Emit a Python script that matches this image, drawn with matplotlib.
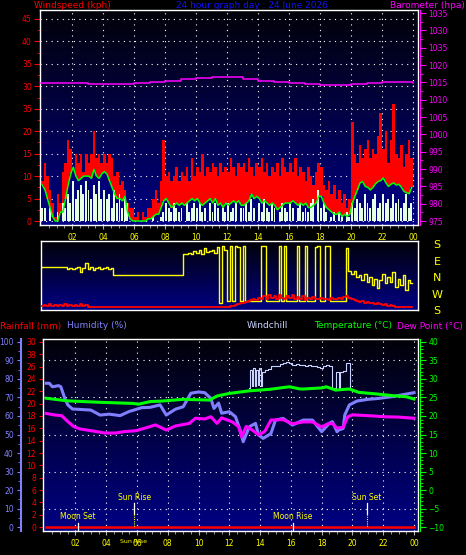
import numpy as np
import matplotlib
matplotlib.use("Agg")
import matplotlib.pyplot as plt
from matplotlib.colors import LinearSegmentedColormap

# top panel, 10 minute samples (kph)
gust = [9, 13, 10, 7, 4, 1, 6, 4, 11, 13, 18, 16, 12, 15, 13, 15, 11, 15,
        13, 15, 20, 14, 15, 13, 15, 13, 15, 14, 10, 11, 8, 9, 7, 4, 3, 3,
        1, 2, 0, 2, 1, 3, 3, 5, 7, 4, 9, 18, 10, 11, 9, 10, 12, 9,
        11, 10, 12, 9, 14, 10, 12, 11, 15, 10, 12, 11, 13, 12, 10, 13, 11, 12,
        11, 14, 12, 10, 13, 12, 13, 11, 14, 12, 10, 13, 12, 14, 11, 13, 10, 12,
        11, 13, 10, 14, 12, 11, 13, 11, 14, 10, 12, 11, 9, 12, 10, 8, 11, 13,
        12, 8, 7, 9, 6, 8, 5, 7, 4, 6, 3, 5, 22, 15, 13, 17, 14, 16,
        18, 14, 16, 15, 19, 24, 16, 20, 13, 18, 26, 15, 14, 17, 12, 15, 18, 14]
wind = [3, 3, 0, 3, 0, 0, 2, 0, 4, 3, 6, 4, 9, 5, 7, 8, 6, 9,
        7, 5, 8, 6, 9, 5, 7, 5, 6, 3, 7, 4, 6, 3, 5, 4, 0, 0,
        0, 0, 0, 0, 0, 0, 0, 1, 0, 0, 1, 2, 4, 3, 2, 4, 3, 2,
        3, 0, 4, 2, 3, 4, 3, 4, 2, 3, 0, 4, 2, 4, 3, 0, 3, 2,
        4, 2, 3, 4, 0, 3, 3, 4, 2, 5, 3, 0, 4, 2, 5, 3, 2, 4,
        3, 0, 2, 4, 3, 2, 4, 3, 0, 3, 4, 2, 3, 2, 4, 5, 0, 7,
        3, 4, 2, 0, 1, 2, 0, 2, 1, 0, 2, 1, 4, 3, 5, 4, 3, 6,
        4, 3, 5, 6, 3, 4, 6, 4, 5, 3, 6, 4, 5, 3, 4, 6, 3, 4]
avg = [8, 7, 5, 3, 1, 0, 0, 2, 2, 5, 8, 10.5, 12, 10, 9, 9.5, 10, 10,
       10, 9.5, 11.5, 10, 9.5, 10.5, 11, 10.5, 9, 7.5, 6, 5, 5, 4.5, 5.5, 2, 0.5, 0,
       0, 0, 0, 0, 0, 0.5, 0.5, 1, 1.5, 1.5, 3, 4.5, 5, 4, 3, 3.5, 4, 3.5,
       4, 3.5, 4, 4.5, 5, 4.5, 5, 4, 3.5, 4, 4.5, 5, 4, 5, 3.5, 4, 3, 4,
       3.5, 4, 4.5, 4, 4.5, 3.5, 3.5, 4, 4.5, 6, 5, 5.5, 5, 4, 4.5, 4, 3.5, 4,
       3.5, 2.5, 3, 3.5, 4, 4, 4, 4.5, 4, 3.5, 4, 3.5, 4, 3, 3, 3.5, 4, 5.5,
       5.5, 4, 3, 2.5, 2, 1.5, 1.5, 2, 1, 1.5, 1, 1.5, 4, 5.5, 7, 8.5, 8.8, 7.7,
       7.5, 6.9, 7.5, 8.3, 8.8, 9, 9.6, 8.5, 7.7, 8.2, 8.5, 8, 8.2, 7.5, 6.6, 6.3, 6.1, 7.5]
baro_hours = list(range(25))
baro = [1014.7, 1014.7, 1014.7, 1014.4, 1014.4, 1014.4, 1014.7, 1015.1, 1015.5,
        1016.0, 1016.3, 1016.5, 1016.4, 1016.0, 1015.4, 1015.1, 1014.7, 1014.4,
        1014.2, 1014.3, 1014.6, 1014.7, 1015.1, 1015.1, 1014.9]

# direction panel (S=4, E=3, N=2, W=1, S=0), 10 minute samples
direction = [2.6, 2.65, 2.65, 2.65, 2.65, 2.65, 2.65, 2.65, 2.65, 2.6, 2.5, 2.55,
             2.5, 2.55, 2.6, 2.3, 2.55, 2.85, 2.5, 2.6, 2.45, 2.55, 2.6, 2.5,
             2.55, 2.6, 2.5, 2.55, 2.15, 2.15] + [2.15] * 25 + \
            [3.45, 3.45, 3.5, 3.45, 3.6, 3.5, 3.7, 3.4, 3.8, 3.55, 3.6,
             3.65, 3.5, 3.85, 0.4, 3.9, 3.7, 0.5, 3.9, 0.5, 3.9, 3.85, 0.5,
             3.9, 0.5, 0.5, 0.5, 0.5, 0.5, 0.5, 3.95, 3.9, 0.5, 0.5, 0.5,
             0.5, 0.5, 3.9, 0.5, 3.9, 0.5, 0.5, 0.5, 0.5, 3.95, 0.5, 0.5,
             3.9, 0.5, 0.5, 0.5, 3.85, 3.9, 0.5, 0.5, 3.9, 3.9, 0.5, 0.5,
             0.5, 0.5, 0.5, 0.5, 3.8, 2.4, 2.2, 2.4, 2.0, 2.1, 1.8, 2.2,
             1.7, 2.0, 1.5, 1.9, 1.3, 1.8, 2.2, 1.6, 2.0, 1.7, 2.3, 1.4,
             1.9, 1.5, 2.1, 1.2, 1.8, 1.6]
dir_speed = [0.2, 0.25, 0.2, 0.3, 0.2, 0.25] * 3 + [0.15] * 54 + \
            [0.15, 0.2, 0.2, 0.25, 0.3, 0.35, 0.4, 0.45, 0.5, 0.55, 0.6, 0.55,
             0.7, 0.6, 0.8, 0.65, 0.9, 0.7, 0.8, 0.65, 0.85, 0.7, 0.6, 0.8,
             0.7, 0.9, 0.65, 0.75, 0.6, 0.8, 0.55, 0.7, 0.6, 0.75, 0.65, 0.6,
             0.7, 0.6, 0.65, 0.55, 0.7, 0.6, 0.65, 0.7, 0.6, 0.75, 0.8, 0.7,
             0.6, 0.55, 0.5, 0.45, 0.5, 0.4, 0.45, 0.35, 0.4, 0.3, 0.35, 0.3,
             0.25, 0.3, 0.2, 0.25, 0.2, 0.15] + [0.15] * 6

# bottom panel
hum_t = [0.1, 0.3, 0.5, 0.9, 1.05, 1.3, 1.5, 1.8, 2.4, 3.0, 3.6, 4.2, 4.9, 5.5, 5.8,
         6.3, 6.86, 7.5, 7.9, 8.5, 9.0, 9.5, 10.0, 10.4, 10.8, 11.0, 11.3, 11.5, 12.0,
         12.4, 12.7, 12.9, 13.3, 13.7, 13.9, 14.2, 14.7, 15.0, 15.5, 16.1, 16.8, 17.4,
         18.0, 18.5, 18.7, 19.0, 19.1, 19.4, 19.5, 19.8, 20.3, 21.0, 21.7, 22.6, 23.2, 24.0]
hum_v = [77.7, 77.7, 75.8, 76.4, 75.8, 69.7, 66, 63.8, 63.5, 63.2, 60.5, 61, 60.2, 62.5,
         63.2, 64.5, 64.7, 66, 60.5, 63.7, 65, 72.3, 73, 72.6, 69.5, 64.1, 67, 61.5, 62.3,
         59.6, 52.4, 46.1, 54.2, 56, 49.7, 47.9, 50.5, 57.8, 58.7, 55.1, 57.8, 57.8, 51.5,
         56.1, 56.9, 51.5, 52.4, 53.3, 60.5, 66, 68.1, 69, 69.5, 70.5, 71.4, 72.6]
temp_t = [0.1, 1.45, 3.6, 5.75, 6.1, 6.86, 7.5, 9.0, 10.7, 11.2, 12.0, 13.3, 14.6, 15.9,
          16.6, 16.8, 18.05, 18.3, 18.9, 19.8, 20.4, 21.7, 22.6, 23.5, 24.0]
temp_v = [24.8, 24.1, 23.7, 23.4, 23.2, 23.9, 24.0, 24.5, 24.3, 25.4, 26.1, 26.8, 27.2,
          27.9, 27.3, 27.3, 27.6, 27.9, 27.0, 27.3, 26.4, 25.9, 25.5, 25.2, 24.6]
dew_t = [0.1, 0.6, 1.1, 1.5, 1.9, 2.3, 3.2, 3.9, 4.6, 5.2, 5.9, 6.5, 7.2, 7.9, 8.5, 9.4,
         9.8, 10.4, 10.8, 11.2, 11.5, 12.2, 12.6, 12.8, 13.1, 13.5, 13.9, 14.3, 14.7, 15.5,
         16.1, 16.8, 17.4, 18.0, 18.4, 18.7, 19.0, 19.4, 19.7, 20.0, 21.0, 22.1, 23.0, 24.0]
dew_v = [20.7, 20.3, 20.1, 18.5, 17.1, 16.5, 15.9, 15.4, 15.4, 15.8, 16.0, 16.7, 17.6,
         16.2, 17.3, 18.0, 19.4, 19.2, 19.8, 18.0, 19.5, 18.4, 17.1, 14.4, 17.2, 16.2,
         14.9, 15.8, 18.9, 19.0, 17.9, 18.4, 18.4, 17.0, 17.9, 18.0, 16.7, 17.0, 19.8,
         20.3, 20.1, 19.8, 19.7, 19.4]
chill_t = [13.3, 13.35, 13.45, 13.55, 13.65, 13.75, 13.85, 13.95, 14.05, 14.15, 14.3,
           14.5, 14.7, 14.9, 15.1, 15.3, 15.5, 15.7, 15.9, 16.1, 16.3, 16.5, 16.7, 16.9,
           17.1, 17.3, 17.5, 17.7, 17.9, 18.1, 18.3, 18.5, 18.65, 18.7, 18.8, 18.9, 19.0,
           19.1, 19.2, 19.4, 19.5, 19.6, 19.8, 19.85]
chill_v = [27.6, 32.5, 28, 33, 28, 32.5, 28.5, 33, 28, 32, 32.3, 32.6, 33.5, 33.6, 33.5,
           34.1, 34.3, 34.7, 34.2, 33.8, 34.0, 33.7, 33.8, 33.6, 33.9, 33.5, 33.6, 33.2,
           33.0, 33.4, 33.9, 33.5, 33.0, 27.7, 27.6, 32, 32, 27.7, 32, 32.1, 32.2, 34.3,
           34.4, 27.6]
rain_t = [0.1, 24.0]
rain_mm = [0, 0]

events = ['Moon Set', 'Sun Rise', 'Moon Rise', 'Sun Set']
event_hours = [2.16, 5.82, 16.11, 20.94]

hour_ticks = list(range(2, 25, 2))
hour_labels = ['02', '04', '06', '08', '10', '12', '14', '16', '18', '20', '22', '00']
wind_ticks = list(range(0, 50, 5))
wind_labels = ['0', '5', '10', '15', '20', '35', '30', '35', '40', '45']
baro_ticks = list(range(975, 1040, 5))
baro_labels = ['975', '980', '985', '990', '995', '1000', '1005', '1010', '1015',
               '1020', '1035', '1030', '1035']
rain_ticks = list(range(0, 32, 2))
rain_labels = ['0', '2', '4', '6', '8', '10', '12', '14', '16', '18', '20', '22', '24',
               '26', '38', '30']
hum_ticks = list(range(0, 110, 10))
temp_ticks = list(range(-10, 45, 5))
compass = ['S', 'E', 'N', 'W', 'S']

W, H = 466, 555
fig = plt.figure(figsize=(W / 100, H / 100), dpi=100, facecolor='black')


def rect(x0, y0, x1, y1):
    return [x0 / W, 1 - y1 / H, (x1 - x0) / W, (y1 - y0) / H]


def ftext(x, y, s, **kw):
    fig.text(x / W, 1 - y / H, s, va='center', **kw)


sky = LinearSegmentedColormap.from_list('sky', ['#020208', '#000084'])


def paint(ax):
    x0, x1 = ax.get_xlim()
    y0, y1 = ax.get_ylim()
    ax.imshow(np.linspace(0, 1, 256).reshape(-1, 1), cmap=sky, aspect='auto',
              extent=[x0, x1, y0, y1], origin='upper', zorder=0)
    ax.set_xlim(x0, x1)
    ax.set_ylim(y0, y1)
    for s in ax.spines.values():
        s.set_color('white')
        s.set_linewidth(1)


dots = (0, (1, 4))
t = np.arange(144) / 6

# ---- windspeed / barometer
ax1 = fig.add_axes(rect(40, 10, 418, 225))
ax1.set_xlim(-0.065, 24.32)
ax1.set_ylim(-0.89, 47.0)
paint(ax1)
ax1.bar(t, gust, width=1 / 6, align='edge', color='#ff0000', lw=0, zorder=2)
ax1.bar(t, avg, width=1 / 6, align='edge', color='#000078', lw=0, zorder=3)
ax1.bar(t, wind, width=0.75 / 6, align='edge', color='#e4ffe4', lw=0, zorder=4)
ax1.plot(t + 1 / 12, avg, color='#00ff00', lw=1.1, zorder=5)
ax1.set_yticks(wind_ticks, wind_labels)
ax1.set_yticks(np.arange(0, 47, 2.5), minor=True)
ax1.set_xticks(hour_ticks, hour_labels)
ax1.set_xticks(np.arange(0.5, 24.3, 0.5), minor=True)
ax1.tick_params(axis='y', which='both', colors='red', labelsize=5.5, length=4, pad=2)
ax1.tick_params(axis='y', which='minor', length=2)
ax1.tick_params(axis='x', which='both', colors='#b0b0b0', labelcolor='yellow',
                labelsize=5.5, length=3, pad=3)
ax1.tick_params(axis='x', which='minor', length=2)
ax1.grid(True, which='major', color='white', ls=dots, lw=0.8, zorder=1)
ax1.set_axisbelow(True)

ax1b = ax1.twinx()
ax1b.set_ylim(973.85, 1035.87)
ax1b.plot(baro_hours, baro, color='#ff00ff', lw=1.1, drawstyle='steps-post')
ax1b.set_yticks(baro_ticks, baro_labels)
ax1b.set_yticks(np.arange(975, 1036, 2.5), minor=True)
ax1b.tick_params(axis='y', which='both', colors='#ff00ff', labelsize=5.5, length=4, pad=2)
ax1b.tick_params(axis='y', which='minor', length=2)
ax1b.spines['right'].set_color('#ff00ff')
ax1b.spines['right'].set_position(('outward', 1.5))
for s in ['left', 'top', 'bottom']:
    ax1b.spines[s].set_visible(False)

ftext(34, 6, 'Windspeed (kph)', color='red', fontsize=6.5)
ftext(252, 6, '24 hour graph day : 24 June 2026', color='#1010ff', fontsize=6.5, ha='center')
ftext(465, 6, 'Barometer (hpa)', color='#ff00ff', fontsize=6.5, ha='right')

# ---- wind direction
ax2 = fig.add_axes(rect(41, 241, 418, 310))
ax2.set_xlim(0, 24.32)
ax2.set_ylim(-0.06, 4.24)
paint(ax2)
ax2.plot(t + 1 / 12, direction, color='#ffff00', lw=1.0, drawstyle='steps-mid', zorder=2)
ax2.plot(t + 1 / 12, dir_speed, color='#ff0000', lw=1.3, drawstyle='steps-mid', zorder=3)
ax2.set_xticks([])
ax2.set_yticks([])
for i, c in enumerate(compass):
    ftext(437, 245 + i * 16.5, c, color='yellow', fontsize=8, ha='center')

# ---- temperature / humidity / rain
ax3 = fig.add_axes(rect(43, 339, 418, 531))
ax3.set_xlim(-0.11, 24.26)
ax3.set_ylim(-11.08, 40.81)
paint(ax3)


def hum2t(v):
    return -10 + np.asarray(v) / 2.0


def rain2t(v):
    return -10 + np.asarray(v) * 5 / 3.0


ax3.plot(chill_t, chill_v, color='#c8d4ff', lw=0.8, drawstyle='steps-post', zorder=3)
ax3.plot(hum_t, hum2t(hum_v), color='#8080ff', lw=2.2, zorder=4)
ax3.plot(dew_t, dew_v, color='#ff00ff', lw=2.2, zorder=5)
ax3.plot(temp_t, temp_v, color='#00ff00', lw=2.2, zorder=6)
ax3.plot(rain_t, rain2t(rain_mm), color='#ff0000', lw=1.8, zorder=6)

for name, h in zip(events, event_hours):
    if name.startswith('Sun'):
        ax3.plot([h, h], [-3.5, -6.6], color='white', lw=0.9, zorder=7)
        ax3.plot([h, h], [-6.6, -10], color='yellow', lw=0.8, ls=(0, (1, 1)), zorder=7)
        ax3.text(h, -2.1, name, color='yellow', fontsize=5.5, ha='center', va='center', zorder=8)
    else:
        ax3.plot([h, h], [-8.9, -10.8], color='white', lw=0.9, zorder=7)
        ax3.text(h, -7.2, name, color='yellow', fontsize=5.5, ha='center', va='center', zorder=8)

ax3.set_yticks(rain2t(rain_ticks), rain_labels)
ax3.set_yticks(temp_ticks, minor=True)
ax3.set_xticks(hour_ticks, hour_labels)
ax3.set_xticks(np.arange(0.5, 24.3, 0.5), minor=True)
ax3.tick_params(axis='y', which='major', colors='red', labelsize=5.5, length=3, pad=2)
ax3.tick_params(axis='y', which='minor', length=0)
ax3.tick_params(axis='x', which='both', colors='#b0b0b0', labelcolor='yellow',
                labelsize=5.5, length=3, pad=3)
ax3.tick_params(axis='x', which='minor', length=2)
ax3.grid(True, axis='x', which='major', color='white', ls=dots, lw=0.8, zorder=1)
ax3.grid(True, axis='y', which='minor', color='white', ls=dots, lw=0.8, zorder=1)
ax3.set_axisbelow(True)

ax3r = ax3.twinx()
ax3r.set_ylim(-11.08, 40.81)
ax3r.set_yticks(temp_ticks)
ax3r.set_yticks(range(-10, 41), minor=True)
ax3r.tick_params(axis='y', which='both', colors='#00ff00', labelsize=5.5, length=4, pad=2)
ax3r.tick_params(axis='y', which='minor', length=2)
ax3r.spines['right'].set_color('#00ff00')
ax3r.spines['right'].set_position(('outward', 1.5))
for s in ['left', 'top', 'bottom']:
    ax3r.spines[s].set_visible(False)

ax3h = ax3.twinx()
ax3h.set_ylim((-11.08 + 10) * 2, (40.81 + 10) * 2)
ax3h.yaxis.tick_left()
ax3h.set_yticks(hum_ticks)
ax3h.set_yticks(range(0, 101, 5), minor=True)
ax3h.tick_params(axis='y', which='both', colors='#8080ff', labelsize=5.5, length=3, pad=2)
ax3h.tick_params(axis='y', which='minor', length=2)
ax3h.spines['left'].set_visible(True)
ax3h.spines['left'].set_color('#8080ff')
ax3h.spines['left'].set_linewidth(1.5)
ax3h.spines['left'].set_position(('outward', 16))
for s in ['right', 'top', 'bottom']:
    ax3h.spines[s].set_visible(False)

ftext(0, 326, 'Rainfall (mm)', color='red', fontsize=6.5)
ftext(67, 326, 'Humidity (%)', color='#8080ff', fontsize=6.5)
ftext(247, 326, 'Windchill', color='#c8d4ff', fontsize=6.5)
ftext(392, 326, 'Temperature (\u00b0C)', color='#00ff00', fontsize=6.5, ha='right')
ftext(463, 326, 'Dew Point (\u00b0C)', color='#ff00ff', fontsize=6.5, ha='right')
ftext(133, 541.5, 'Sun Rise', color='yellow', fontsize=4.5, ha='center')

fig.savefig('out.png', dpi=100, facecolor='black')
